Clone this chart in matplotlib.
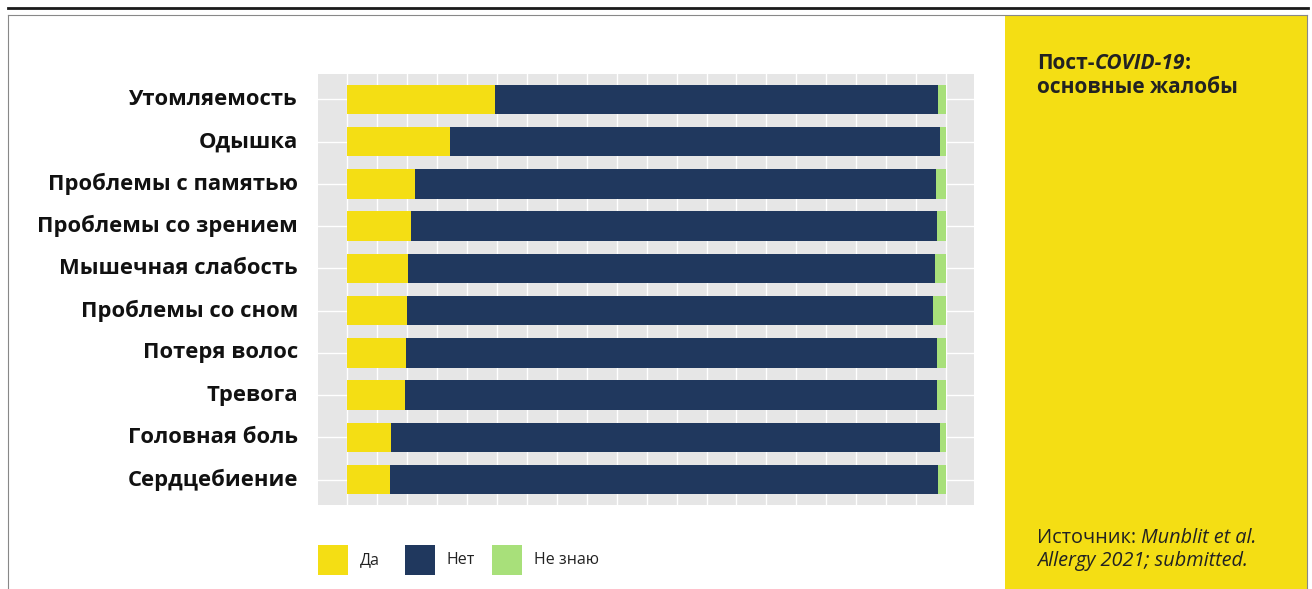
import numpy as np
import matplotlib.pyplot as plt
from matplotlib.patches import Rectangle
from matplotlib.lines import Line2D
from matplotlib.transforms import ScaledTranslation

plt.rcParams['font.family'] = ['Open Sans', 'DejaVu Sans']

# данные (доли ответов, %)
symptoms = ['Утомляемость', 'Одышка', 'Проблемы с памятью', 'Проблемы со зрением',
            'Мышечная слабость', 'Проблемы со сном', 'Потеря волос', 'Тревога',
            'Головная боль', 'Сердцебиение']
da = [24.7, 17.2, 11.4, 10.7, 10.2, 10.0, 9.8, 9.7, 7.3, 7.2]
net = [74.0, 81.8, 86.9, 87.8, 88.0, 87.8, 88.7, 88.8, 91.7, 91.5]
ne_znayu = [1.3, 1.0, 1.7, 1.5, 1.8, 2.2, 1.5, 1.5, 1.0, 1.3]

answers = ['Да', 'Нет', 'Не знаю']
colors = ['#f4de14', '#20385e', '#a8e07a']

W, H = 1312, 589
fig = plt.figure(figsize=(W / 100, H / 100), dpi=100)

def fx(px):
    return px / W

def fy(py):
    return 1 - py / H

# рамка и жёлтая панель
fig.add_artist(Rectangle((fx(1005), fy(589)), fx(1307) - fx(1005), fy(16) - fy(589),
                         transform=fig.transFigure, color='#f4de14', lw=0, zorder=0))
fig.add_artist(Line2D([fx(8), fx(1308)], [fy(7.5), fy(7.5)], color='#1a1a1a', lw=2))
fig.add_artist(Line2D([fx(8), fx(1307)], [fy(15), fy(15)], color='#888888', lw=0.8))
fig.add_artist(Line2D([fx(8), fx(8)], [fy(15), 0], color='#888888', lw=0.8))
fig.add_artist(Line2D([fx(1307), fx(1307)], [fy(15), 0], color='#888888', lw=0.8))

ax = fig.add_axes([fx(318), fy(505), fx(974) - fx(318), fy(74) - fy(505)])
ax.set_facecolor('#e6e6e6')
y = np.arange(1, len(symptoms) + 1)
left = np.zeros(len(symptoms))
for vals, col in zip([da, net, ne_znayu], colors):
    ax.barh(y, vals, left=left, height=0.7, color=col, zorder=3)
    left = left + np.array(vals)

ax.set_xlim(-4.85, 104.65)
ax.set_ylim(len(symptoms) + 0.6, 0.4)
ax.set_xticks(np.arange(0, 101, 5))
ax.set_yticks(y, symptoms, fontsize=15.8, fontweight='bold', color='#111111')
ax.tick_params(axis='both', length=0, labelbottom=False)
ax.tick_params(axis='y', pad=14.4)
# подписи чуть выше центра полос, как в оригинале
shift = ScaledTranslation(0, 0.025, fig.dpi_scale_trans)
for tick in ax.yaxis.get_major_ticks():
    tick.label1.set_transform(tick.label1.get_transform() + shift)
ax.grid(True, color='white', lw=1, zorder=1)
ax.set_axisbelow(True)
for s in ax.spines.values():
    s.set_visible(False)

# легенда
for i, (lab, col) in enumerate(zip(answers, colors)):
    x0 = 318 + 87 * i
    fig.add_artist(Rectangle((fx(x0), fy(575)), fx(30), 30 / H,
                             transform=fig.transFigure, color=col, lw=0))
    fig.text(fx(x0 + 42), fy(560), lab, fontsize=11.5, va='center', color='#222222')

# заголовок на панели
t1 = fig.text(fx(1037), fy(69), 'Пост-', fontsize=15, fontweight='bold', color='#222222')
t2 = ax.annotate('COVID-19', xy=(1, 0), xycoords=t1, va='bottom', fontsize=15,
                 fontweight='bold', fontstyle='italic', color='#222222')
ax.annotate(':', xy=(1, 0), xycoords=t2, va='bottom', fontsize=15,
            fontweight='bold', color='#222222')
fig.text(fx(1037), fy(93), 'основные жалобы', fontsize=15, fontweight='bold', color='#222222')

s1 = fig.text(fx(1037), fy(543), 'Источник: ', fontsize=14.3, color='#222222')
ax.annotate('Munblit et al.', xy=(1, 0), xycoords=s1, va='bottom', fontsize=14.3,
            fontstyle='italic', color='#222222')
fig.text(fx(1037), fy(566), 'Allergy 2021; submitted.', fontsize=14.3,
         fontstyle='italic', color='#222222')

fig.savefig('out.png', dpi=100)
